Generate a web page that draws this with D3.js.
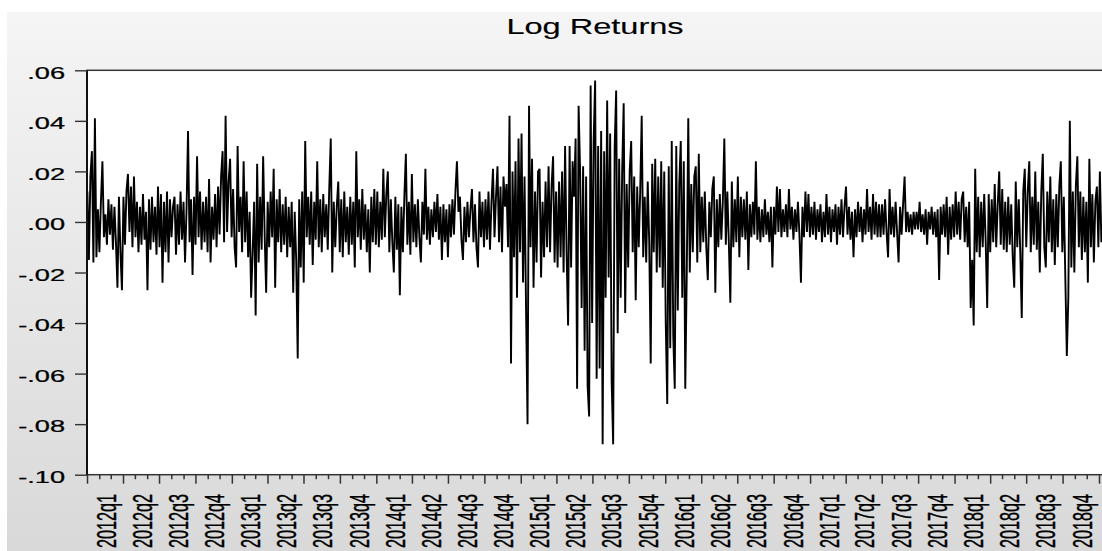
<!DOCTYPE html>
<html><head><meta charset="utf-8">
<script src="https://cdn.jsdelivr.net/npm/d3@7"></script>
<style>body{margin:0;background:#fff}svg{display:block}</style>
</head><body>
<svg id="chart" width="1102" height="551"></svg>
<script>
const chartTitle = "Log Returns";
const quarterLabels = ["2012q1","2012q2","2012q3","2012q4","2013q1","2013q2","2013q3","2013q4",
  "2014q1","2014q2","2014q3","2014q4","2015q1","2015q2","2015q3","2015q4",
  "2016q1","2016q2","2016q3","2016q4","2017q1","2017q2","2017q3","2017q4",
  "2018q1","2018q2","2018q3","2018q4"];
const yTickValues = [0.06, 0.04, 0.02, 0, -0.02, -0.04, -0.06, -0.08, -0.10];
const yTickLabels = [".06", ".04", ".02", ".00", "-.02", "-.04", "-.06", "-.08", "-.10"];
const firstDay = "2012-01-02";
const lastDay = "2019-01-07";
const logReturns = [
.012,-.015,.018,.028,-.016,.041,-.014,.005,-.012,.008,.024,-.006,.003,-.009,.009,-.005,.007,-.011,.006,-.008,-.026,.010,-.012,-.027,
.010,-.009,.012,.019,-.004,.014,-.010,.018,-.006,.008,-.012,.006,-.009,.011,-.007,.004,-.027,.009,-.011,.010,-.008,.006,-.013,.014,
-.010,.011,-.024,.008,-.012,.012,-.016,.009,-.006,.006,.010,-.013,.007,-.009,.012,-.007,.008,-.016,.005,.036,-.008,.009,-.021,.010,
-.009,.026,-.006,.012,-.011,.008,-.008,.010,-.012,.017,-.016,.006,-.007,.011,-.010,.014,-.005,.018,.028,-.008,.042,-.004,.016,.025,
-.006,.013,-.010,-.018,.030,-.004,.010,-.012,.024,-.008,.012,-.014,.004,-.030,-.012,.008,-.037,.023,-.016,.010,-.011,.026,-.005,-.028,
.008,-.010,.012,-.006,.021,-.026,.009,-.008,.013,-.012,.007,-.009,.010,-.014,.006,-.010,.008,-.028,.004,-.015,-.054,.009,-.018,.012,
-.024,.032,-.006,.010,-.009,.012,-.017,.008,-.007,.024,-.010,.009,-.012,.011,-.006,.007,-.011,.013,.033,-.020,.008,-.010,.006,.016,
-.012,.009,-.014,.012,-.008,.006,-.013,.010,-.009,.008,-.018,.028,-.006,.009,-.011,.013,-.007,.007,-.012,.005,-.020,.010,-.008,.013,
-.009,.012,-.010,.008,-.007,.021,-.006,.011,.020,-.012,.009,-.008,-.020,.010,-.011,.007,-.029,.006,-.012,.010,.027,-.009,.008,-.013,
.019,-.008,.007,-.010,.009,-.006,-.016,.008,-.005,.021,-.007,.006,-.009,.005,-.006,.008,-.004,.011,-.007,.006,-.015,.007,-.008,.005,
-.014,.007,-.006,.009,-.005,.012,.024,.004,.010,-.007,-.015,.006,-.008,.008,-.006,.005,.013,-.008,.007,-.010,-.018,.012,-.006,.008,
-.010,.009,-.007,.012,-.011,.008,.021,-.006,.010,.022,-.008,.014,-.012,.018,.006,.015,-.010,.042,-.056,.020,-.014,.024,-.030,.033,
-.012,.035,-.024,.018,-.034,-.080,.046,-.010,.025,-.026,.012,-.016,.020,.021,-.022,.008,-.014,.016,-.010,.022,-.012,.014,.026,-.016,
.012,-.018,.016,-.014,.020,-.020,.030,-.012,-.041,.030,-.018,.024,.010,.033,-.066,.046,.020,-.034,.022,-.051,.018,-.065,-.077,.054,
-.040,.032,.056,-.062,.030,-.058,.036,-.088,.028,-.030,.048,-.022,.035,-.063,-.088,.030,.052,-.044,.025,-.030,.020,.047,-.036,.015,
-.018,.020,.032,-.012,.018,-.031,.014,-.010,.012,.042,-.014,.010,-.016,.016,-.008,-.056,.023,-.012,.025,-.020,.018,-.018,.024,-.026,
.020,-.040,-.072,.022,-.050,.032,-.045,-.066,.030,-.035,.015,.032,-.030,.024,-.066,-.020,.041,-.020,.015,-.012,.018,.022,-.016,.027,
-.012,.010,-.008,.012,-.010,-.023,.008,-.006,.013,.018,-.028,.009,-.010,.011,-.007,.008,.033,-.009,.012,-.008,-.032,.016,-.010,.009,
-.008,.018,-.014,.010,-.006,.009,-.007,.012,-.019,.007,-.006,.008,-.005,.024,-.007,.006,-.008,.005,-.006,.009,-.005,.004,-.008,.006,
-.018,.006,-.005,.014,-.004,.013,-.006,.005,-.004,.007,-.006,.013,-.003,.006,-.007,.005,-.004,.008,-.005,-.024,.006,-.006,.012,-.004,
.011,-.006,.006,-.005,.008,-.007,.005,-.004,.007,-.008,.004,-.006,.011,-.005,.006,-.008,.005,-.004,.007,-.009,.006,-.005,.009,-.006,
.006,.014,-.005,.006,-.007,.004,-.014,.005,-.006,.008,-.004,.006,-.008,.005,-.005,.013,-.004,.006,-.007,.011,-.005,.008,-.006,.007,
-.006,.007,-.005,.009,-.004,-.014,.013,-.005,.006,-.006,.008,-.004,-.016,.006,-.005,.007,.018,-.004,.004,-.004,.003,-.005,.004,-.003,
.004,-.003,.008,-.004,.003,-.005,.005,-.009,.004,-.003,.006,-.005,.004,-.006,.005,-.023,.006,-.005,.007,-.006,.010,-.013,.006,-.007,
.007,-.006,.012,-.005,.008,-.007,.009,.012,-.008,.006,-.010,.008,-.034,-.015,-.041,.021,-.012,.010,-.014,.008,-.010,.011,-.008,-.034,
.011,-.012,.009,-.008,.015,-.010,.007,.020,-.009,.013,-.011,.008,-.012,.010,-.009,.007,-.014,-.026,.016,-.010,.009,-.012,-.038,.012,
.021,-.010,.012,.024,-.012,.010,-.009,.020,-.011,.008,-.020,.012,.027,-.010,-.018,.012,-.008,.018,-.012,.009,-.017,.011,-.010,.014,
.024,-.012,.010,-.022,-.053,-.030,.040,-.018,.012,-.020,.014,.026,-.010,.012,-.015,.010,-.012,.008,-.024,.025,-.010,.011,-.016,.008,
.014,-.010,.020,-.008
];

const W = 1102, H = 551;
const FONT = "'Liberation Sans', Arial, Helvetica, sans-serif";
const plot = { left: 87, top: 70.3, bottom: 474.7, right: 1115 };
const svg = d3.select("#chart");

// background panel with vertical gradient
const grad = svg.append("defs").append("linearGradient").attr("id", "bg")
  .attr("x1", 0).attr("y1", 0).attr("x2", 0).attr("y2", 1);
grad.append("stop").attr("offset", "0%").attr("stop-color", "#f5f5f5");
grad.append("stop").attr("offset", "100%").attr("stop-color", "#d8d8d8");
svg.append("rect").attr("x", 7).attr("y", 12).attr("width", W).attr("height", H).attr("fill", "url(#bg)");

// scales
const qStart = s => new Date(Date.UTC(+s.slice(0, 4), (+s.slice(5) - 1) * 3, 1));
const quarterStarts = quarterLabels.map(qStart);
const domainEnd = d3.utcMonth.offset(quarterStarts[quarterStarts.length - 1], 3);
const x = d3.scaleUtc().domain([quarterStarts[0], domainEnd]).range([87, 1099]);
const y = d3.scaleLinear().domain([-0.10, 0.06]).range([plot.bottom, plot.top]);

// plot area
svg.append("rect").attr("x", plot.left).attr("y", plot.top)
  .attr("width", plot.right - plot.left).attr("height", plot.bottom - plot.top)
  .attr("fill", "#fff");

// data line
const parse = d3.utcParse("%Y-%m-%d");
const t0 = parse(firstDay), t1 = parse(lastDay);
const N = logReturns.length;
const dates = logReturns.map((d, i) => new Date(+t0 + i * (t1 - t0) / (N - 1)));
const line = d3.line().x((d, i) => x(dates[i])).y(d => y(d));
svg.append("path").datum(logReturns).attr("d", line)
  .attr("fill", "none").attr("stroke", "#000").attr("stroke-width", 1.9)
  .attr("stroke-linejoin", "miter").attr("stroke-miterlimit", 1.5);

// frame
svg.append("rect").attr("x", plot.left).attr("y", plot.top)
  .attr("width", plot.right - plot.left).attr("height", plot.bottom - plot.top)
  .attr("fill", "none").attr("stroke", "#333").attr("stroke-width", 1.5);
svg.append("line").attr("x1", plot.left).attr("x2", plot.left)
  .attr("y1", plot.top).attr("y2", plot.bottom)
  .attr("stroke", "#111").attr("stroke-width", 2);

// y axis
const yAxis = svg.append("g").attr("transform", `translate(${plot.left},0)`)
  .call(d3.axisLeft(y).tickValues(yTickValues).tickFormat((d, i) => yTickLabels[i]).tickSize(12));
yAxis.select(".domain").remove();
yAxis.selectAll(".tick line").attr("stroke", "#333").attr("stroke-width", 1.4);
yAxis.selectAll(".tick text")
  .attr("x", 0).attr("dy", "0.49em")
  .attr("transform", "translate(-22,0) scale(1.7,1)")
  .attr("font-family", FONT).attr("font-size", 16).attr("fill", "#000")
  .attr("stroke", "#000").attr("stroke-width", 0.25)
  .attr("text-anchor", "end");

// x axis: monthly minor ticks, quarterly major ticks
const months = d3.utcMonths(quarterStarts[0], domainEnd).filter(d => d.getUTCMonth() % 3 !== 0);
const xMinor = svg.append("g").attr("transform", `translate(0,${plot.bottom})`)
  .call(d3.axisBottom(x).tickValues(months).tickSize(4.5).tickFormat(""));
const xMajor = svg.append("g").attr("transform", `translate(0,${plot.bottom})`)
  .call(d3.axisBottom(x).tickValues(quarterStarts.concat([domainEnd])).tickSize(9).tickFormat(""));
[xMinor, xMajor].forEach(g => {
  g.select(".domain").remove();
  g.selectAll(".tick line").attr("stroke", "#333").attr("stroke-width", 1.5);
});

// quarter labels, centred in each quarter, rotated; wide glyphs via large size compressed along the text
svg.append("g").selectAll("text").data(quarterLabels).join("text")
  .attr("transform", (d, i) => {
    const s = quarterStarts[i];
    const e = d3.utcMonth.offset(s, 3);
    const cx = (x(s) + x(e)) / 2 + 1;
    return `translate(${cx},494) rotate(-90)`;
  })
  .attr("text-anchor", "end").attr("dy", "0.36em")
  .attr("textLength", 54).attr("lengthAdjust", "spacingAndGlyphs")
  .attr("font-family", FONT).attr("font-size", 27).attr("fill", "#000")
  .attr("stroke", "#000").attr("stroke-width", 0.4)
  .text(d => d);

// title
svg.append("text").attr("transform", "translate(595,34) scale(1.48,1)")
  .attr("text-anchor", "middle").attr("font-family", FONT).attr("font-size", 22)
  .attr("fill", "#000").attr("stroke", "#000").attr("stroke-width", 0.15)
  .text(chartTitle);
</script>
</body></html>
